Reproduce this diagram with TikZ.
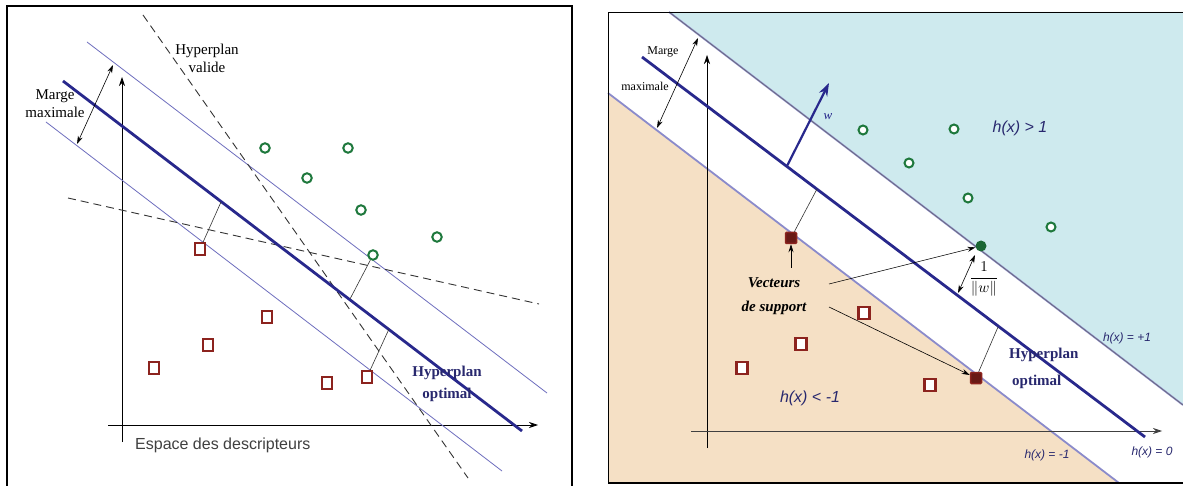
\documentclass[tikz,border=0pt]{standalone}
\usepackage{fontspec}
\setmainfont{Liberation Serif}
\newfontfamily\arialf{Liberation Sans}
\usetikzlibrary{arrows.meta}
\definecolor{hypblue}{RGB}{40,40,140}
\definecolor{marginc}{RGB}{110,110,190}
\definecolor{ptgreen}{RGB}{30,120,60}
\definecolor{ptred}{RGB}{140,35,30}
\definecolor{cyanbg}{RGB}{206,234,238}
\definecolor{beigebg}{RGB}{245,224,197}
\definecolor{txtblue}{RGB}{40,40,110}
\begin{document}
\begin{tikzpicture}[x=1pt,y=-1pt,
 optline/.style={hypblue,line width=2.8pt},
 margline/.style={marginc,line width=0.8pt},
 edgeline/.style={marginc!80,line width=1.8pt},
 dashline/.style={black!80,line width=0.9pt,dash pattern=on 8pt off 5pt},
 gpt/.style={circle,draw=ptgreen,fill=white,line width=2pt,minimum size=9.5pt,inner sep=0pt},
 gptfill/.style={circle,fill=ptgreen!85!black,minimum size=11pt,inner sep=0pt},
 rpt/.style={rectangle,draw=ptred,fill=white,line width=2pt,minimum width=10pt,minimum height=11.5pt,inner sep=0pt},
 rptfill/.style={rectangle,draw=ptred,fill=ptred!75!black,line width=1.5pt,minimum size=11pt,inner sep=0pt,rounded corners=1pt},
 axisline/.style={line width=0.8pt,-{Stealth[length=9pt,width=6pt]}},
 perp/.style={black!80,line width=0.6pt},
 dblarrow/.style={line width=0.6pt,{Stealth[length=8pt,width=5pt]}-{Stealth[length=8pt,width=5pt]}},
 onearrow/.style={line width=0.6pt,-{Stealth[length=8pt,width=5pt]}},
 lbl/.style={inner sep=0pt,font=\fontsize{15}{18}\selectfont},
 blbl/.style={inner sep=0pt,text=txtblue,font=\fontsize{15}{18}\selectfont\bfseries},
 hlbl/.style={inner sep=0pt,text=txtblue,font=\arialf\itshape\fontsize{16}{18}\selectfont},
 hsmall/.style={inner sep=0pt,text=txtblue,font=\arialf\itshape\fontsize{12}{14}\selectfont}
]
\useasboundingbox (0,0) rectangle (1183,486);
\fill[white] (0,0) rectangle (1183,486);

% ================= LEFT PANEL =================
\draw[line width=2pt] (7,486) -- (7,6) -- (572,6) -- (572,486);

\coordinate (LuA) at (87,42);  \coordinate (LuB) at (547,393);
\coordinate (LlA) at (46,122); \coordinate (LlB) at (502,471);
\coordinate (LoA) at (63,81);  \coordinate (LoB) at (522,431);
\coordinate (LdA) at (143,15); \coordinate (LdB) at (468,478);
\coordinate (LsA) at (68,198); \coordinate (LsB) at (539,304);
\coordinate (LyB) at (122,442); \coordinate (LyT) at (122,77);
\coordinate (LxL) at (108,425); \coordinate (LxR) at (538,425);
\coordinate (LmA) at (113,65); \coordinate (LmB) at (77,144);

\draw[axisline] (LyB) -- (LyT);
\draw[axisline] (LxL) -- (LxR);
\draw[margline] (LuA) -- (LuB);
\draw[margline] (LlA) -- (LlB);
\draw[dashline] (LdA) -- (LdB);
\draw[dashline] (LsA) -- (LsB);
\draw[optline] (LoA) -- (LoB);
\draw[dblarrow] (LmA) -- (LmB);

\node[gpt] (Lg1) at (265,148) {};
\node[gpt] (Lg2) at (348,148) {};
\node[gpt] (Lg3) at (307,178) {};
\node[gpt] (Lg4) at (361,210) {};
\node[gpt] (Lg5) at (437,237) {};
\node[gpt] (Lg6) at (373,255) {};
\node[rpt] (Lr1) at (200,249) {};
\node[rpt] (Lr2) at (267,317) {};
\node[rpt] (Lr3) at (208,345) {};
\node[rpt] (Lr4) at (154,368) {};
\node[rpt] (Lr5) at (327,383) {};
\node[rpt] (Lr6) at (367,377) {};

\coordinate (Lp1) at (221,202);
\coordinate (Lp2) at (350,299);
\coordinate (Lp3) at (389,329);
\draw[perp] (Lr1) -- (Lp1);
\draw[perp] (Lg6) -- (Lp2);
\draw[perp] (Lr6) -- (Lp3);

\node[lbl,align=center] (Lvalide) at (207,58) {Hyperplan\\valide};
\node[lbl,align=center] (Lmarge) at (55,104) {Marge\\maximale};
\node[blbl,align=center,font=\fontsize{15}{22}\selectfont\bfseries] (Lopt) at (447,384) {Hyperplan\\optimal};
\node[inner sep=0pt,anchor=west,text=black!75,font=\arialf\fontsize{16}{18}\selectfont] (Lesp) at (135,445) {Espace des descripteurs};

% ================= RIGHT PANEL =================
\fill[cyanbg] (669,12) -- (1183,12) -- (1183,405) -- cycle;
\fill[beigebg] (608,93) -- (608,483) -- (1119,483) -- cycle;

\coordinate (RuA) at (669,12);  \coordinate (RuB) at (1183,405);
\coordinate (RlA) at (608,93);  \coordinate (RlB) at (1119,483);
\coordinate (RoA) at (642,57);  \coordinate (RoB) at (1145,437);
\coordinate (RyB) at (707,448); \coordinate (RyT) at (707,55);
\coordinate (RxL) at (691,431); \coordinate (RxR) at (1162,431);
\coordinate (RmA) at (698,38);  \coordinate (RmB) at (657,128);
\coordinate (RwA) at (787,166); \coordinate (RwB) at (829,83);

\draw[edgeline] (RuA) -- (RuB);
\draw[black!60,line width=0.5pt] (RuA) -- (RuB);
\draw[edgeline] (RlA) -- (RlB);
\draw[line width=0.8pt] (608,483) -- (608,12) -- (1183,12);
\draw[line width=1.2pt] (608,483) -- (1183,483);

\draw[axisline,line width=0.6pt] (RyB) -- (RyT);
\draw[axisline,black!75] (RxL) -- (RxR);
\draw[optline] (RoA) -- (RoB);
\draw[dblarrow] (RmA) -- (RmB);
\draw[hypblue,line width=2.2pt,-{Stealth[length=13pt,width=9pt]}] (RwA) -- (RwB);

\node[gpt,minimum size=9pt] (Rg1) at (863,130) {};
\node[gpt,minimum size=9pt] (Rg2) at (954,129) {};
\node[gpt,minimum size=9pt] (Rg3) at (909,163) {};
\node[gpt,minimum size=9pt] (Rg4) at (968,198) {};
\node[gpt,minimum size=9pt] (Rg5) at (1051,227) {};
\node[gptfill] (Rg6) at (981,246) {};

\node[rptfill] (Rr1) at (791,238) {};
\node[rpt,line width=2.6pt,minimum width=11pt,minimum height=12pt] (Rr2) at (864,313) {};
\node[rpt,line width=2.6pt,minimum width=11pt,minimum height=12pt] (Rr3) at (801,344) {};
\node[rpt,line width=2.6pt,minimum width=11pt,minimum height=12pt] (Rr4) at (742,368) {};
\node[rpt,line width=2.6pt,minimum width=11pt,minimum height=12pt] (Rr5) at (930,385) {};
\node[rptfill] (Rr6) at (976,378) {};

\coordinate (Rp1) at (817,189);
\coordinate (Rp2) at (998,327);
\draw[perp] (Rr1) -- (Rp1);
\draw[perp] (Rr6) -- (Rp2);

\coordinate (RnA) at (975,255); \coordinate (RnB) at (958,293);
\draw[dblarrow] (RnA) -- (RnB);

\node[inner sep=0pt,text=hypblue,font=\itshape\fontsize{13}{15}\selectfont] (Rw) at (828,117) {w};
\node[inner sep=0pt,font=\fontsize{12}{14}\selectfont] (Rmarge) at (663,52) {Marge};
\node[inner sep=0pt,font=\fontsize{12}{14}\selectfont] (Rmax) at (645,86) {maximale};
\node[inner sep=0pt,scale=1.5] (Rfrac) at (984,279) {$\displaystyle\frac{1}{\|w\|}$};
\node[inner sep=0pt,align=center,font=\fontsize{15}{24}\selectfont\bfseries\itshape] (Rvec) at (774,296) {Vecteurs\\de support};
\node[blbl,anchor=west] (Rhyp) at (1009,355) {Hyperplan};
\node[blbl,anchor=west] (Ropt) at (1012,382) {optimal};

\coordinate (RvUp) at (791,268);
\coordinate (RvL1) at (829,284);
\coordinate (RvL2) at (829,307);
\draw[onearrow] (RvUp) -- (Rr1);
\draw[onearrow] (RvL1) -- (Rg6);
\draw[onearrow] (RvL2) -- (Rr6);

\node[hlbl] (Rhg1) at (1020,128) {h(x) > 1};
\node[hlbl] (Rhl1) at (810,398) {h(x) < -1};
\node[hsmall] (Rhp1) at (1127,338) {h(x) = +1};
\node[hsmall] (Rhm1) at (1047,455) {h(x) = -1};
\node[hsmall] (Rh0) at (1152,452) {h(x) = 0};
\end{tikzpicture}
\end{document}
